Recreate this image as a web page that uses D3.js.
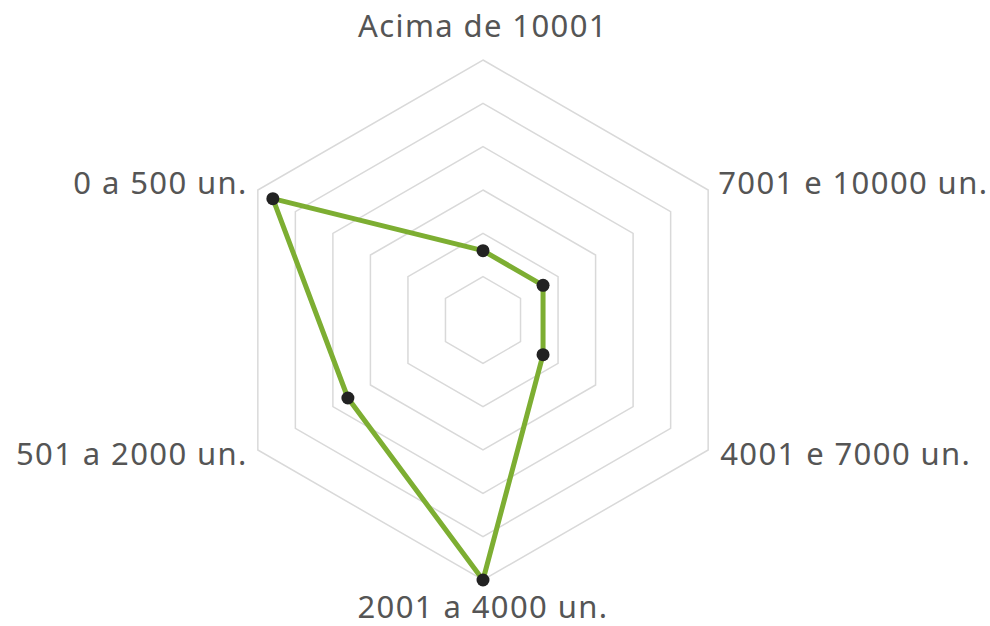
<!DOCTYPE html>
<html>
<head>
<meta charset="utf-8">
<script src="https://cdn.jsdelivr.net/npm/d3@7"></script>
<style>
  body { margin: 0; background: #fff; }
  .axis-label { font-family: "Noto Sans", sans-serif; font-size: 31px; letter-spacing: 1.4px; fill: #555; }
</style>
</head>
<body>
<svg id="chart" width="990" height="626"></svg>
<script>
const categories = [
  "Acima de 10001",
  "7001 e 10000 un.",
  "4001 e 7000 un.",
  "2001 a 4000 un.",
  "501 a 2000 un.",
  "0 a 500 un."
];
const values = [4, 4, 4, 15, 9, 14];
const maxValue = 15;
const levels = 6;

const svg = d3.select("#chart");
const cx = 483, cy = 320, radius = 260;

const r = d3.scaleLinear().domain([0, maxValue]).range([0, radius]);
const angle = i => (Math.PI * 2 * i) / categories.length;
const px = (i, v) => cx + r(v) * Math.sin(angle(i));
const py = (i, v) => cy - r(v) * Math.cos(angle(i));

const g = svg.append("g");

// grid rings
const ringVals = d3.range(1, levels + 1).map(k => (maxValue * k) / levels);
g.selectAll(".ring")
  .data(ringVals)
  .enter()
  .append("polygon")
  .attr("points", v => categories.map((c, i) => `${px(i, v)},${py(i, v)}`).join(" "))
  .attr("fill", "none")
  .attr("stroke", "#d9d9d9")
  .attr("stroke-width", 1.5);

// data line
const line = d3.line()
  .x((d, i) => px(i, d))
  .y((d, i) => py(i, d))
  .curve(d3.curveLinearClosed);

g.append("path")
  .datum(values)
  .attr("d", line)
  .attr("fill", "none")
  .attr("stroke", "#7dae32")
  .attr("stroke-width", 5)
  .attr("stroke-linejoin", "round");

g.selectAll(".dot")
  .data(values)
  .enter()
  .append("circle")
  .attr("cx", (d, i) => px(i, d))
  .attr("cy", (d, i) => py(i, d))
  .attr("r", 6.5)
  .attr("fill", "#222");

// labels
const labelPos = [
  { dx: 0, dy: -23, anchor: "middle" },
  { dx: 10, dy: 4, anchor: "start" },
  { dx: 12, dy: 15, anchor: "start" },
  { dx: 0, dy: 38, anchor: "middle" },
  { dx: -10, dy: 15, anchor: "end" },
  { dx: -10, dy: 4, anchor: "end" }
];

g.selectAll(".axis-label")
  .data(categories)
  .enter()
  .append("text")
  .attr("class", "axis-label")
  .attr("x", (d, i) => px(i, maxValue) + labelPos[i].dx)
  .attr("y", (d, i) => py(i, maxValue) + labelPos[i].dy)
  .attr("text-anchor", (d, i) => labelPos[i].anchor)
  .text(d => d);
</script>
</body>
</html>
